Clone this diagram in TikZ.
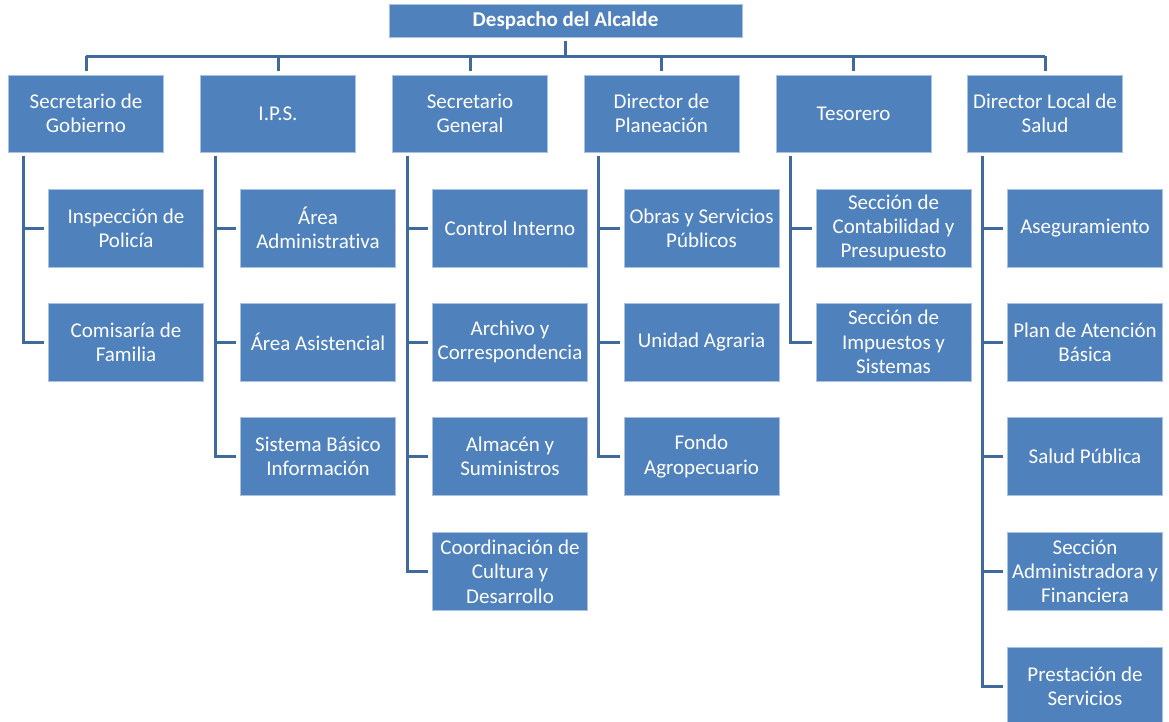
\documentclass[tikz,border=0pt]{standalone}
\usepackage{fontspec}
\setmainfont[Ligatures=NoCommon]{Carlito}
\definecolor{boxblue}{RGB}{79,129,189}
\definecolor{lineblue}{RGB}{63,106,155}
\definecolor{boxedge}{RGB}{170,194,224}
\begin{document}
\begin{tikzpicture}[x=1pt,y=-1pt,
  orgbox/.style={rectangle,fill=boxblue,draw=boxedge,line width=0.8pt,text=white,
    align=center,inner sep=0pt,font=\fontsize{21}{24.3}\selectfont},
  headbox/.style={orgbox,minimum width=155pt,minimum height=77pt},
  subbox/.style={orgbox,minimum width=155pt,minimum height=78pt},
  conn/.style={draw=lineblue,line width=3pt}]
\useasboundingbox (0,0) rectangle (1169,722);
% top
\node[orgbox,minimum width=353pt,minimum height=33pt,font=\fontsize{21}{24.3}\selectfont\bfseries] (top) at (565.5,20.5) {Despacho del Alcalde};
% level 1
\node[headbox] (g) at (86,113.5) {Secretario de\\Gobierno};
\node[headbox] (i) at (278,113.5) {I.P.S.};
\node[headbox] (s) at (470,113.5) {Secretario\\General};
\node[headbox] (p) at (661.5,113.5) {Director de\\Planeación};
\node[headbox] (t) at (853.5,113.5) {Tesorero};
\node[headbox] (h) at (1045,113.5) {Director Local de\\Salud};
% children
\node[subbox] (g1) at (126,228) {Inspección de\\Policía};
\node[subbox] (g2) at (126,342) {Comisaría de\\Familia};
\node[subbox] (i1) at (318,228) {Área\\Administrativa};
\node[subbox] (i2) at (318,342) {Área Asistencial};
\node[subbox] (i3) at (318,456.5) {Sistema Básico\\Información};
\node[subbox] (s1) at (510,228) {Control Interno};
\node[subbox] (s2) at (510,342) {Archivo y\\Correspondencia};
\node[subbox] (s3) at (510,456.5) {Almacén y\\Suministros};
\node[subbox] (s4) at (510,571.5) {Coordinación de\\Cultura y\\Desarrollo};
\node[subbox] (p1) at (701.5,228) {Obras y Servicios\\Públicos};
\node[subbox] (p2) at (701.5,342) {Unidad Agraria};
\node[subbox] (p3) at (701.5,456.5) {Fondo\\Agropecuario};
\node[subbox] (t1) at (893.5,228) {Sección de\\Contabilidad y\\Presupuesto};
\node[subbox] (t2) at (893.5,342) {Sección de\\Impuestos y\\Sistemas};
\node[subbox] (h1) at (1085,228) {Aseguramiento};
\node[subbox] (h2) at (1085,342) {Plan de Atención\\Básica};
\node[subbox] (h3) at (1085,456.5) {Salud Pública};
\node[subbox] (h4) at (1085,571.5) {Sección\\Administradora y\\Financiera};
\node[subbox] (h5) at (1085,686) {Prestación de\\Servicios};
% bus
\coordinate (bus) at (0,56.5);
\draw[conn,shorten <=4pt] (top.south) -- (top.south |- bus);
\draw[conn] (g.north |- bus) -- (h.north |- bus);
\foreach \n in {g,i,s,p,t,h}{
  \draw[conn,shorten >=4pt] (\n.north |- bus) -- (\n.north);
}
% child connectors
\foreach \pp/\lastk/\kids in {g/g2/{g1,g2}, i/i3/{i1,i2,i3}, s/s4/{s1,s2,s3,s4}, p/p3/{p1,p2,p3}, t/t2/{t1,t2}, h/h5/{h1,h2,h3,h4,h5}}{
  \coordinate (\pp spine) at ([xshift=15pt]\pp.south west);
  \draw[conn,shorten <=3.5pt] (\pp spine) |- ([xshift=-4pt]\lastk.west);
  \foreach \k in \kids {
    \draw[conn] (\pp spine |- \k.west) -- ([xshift=-4pt]\k.west);
  }
}
\end{tikzpicture}
\end{document}
